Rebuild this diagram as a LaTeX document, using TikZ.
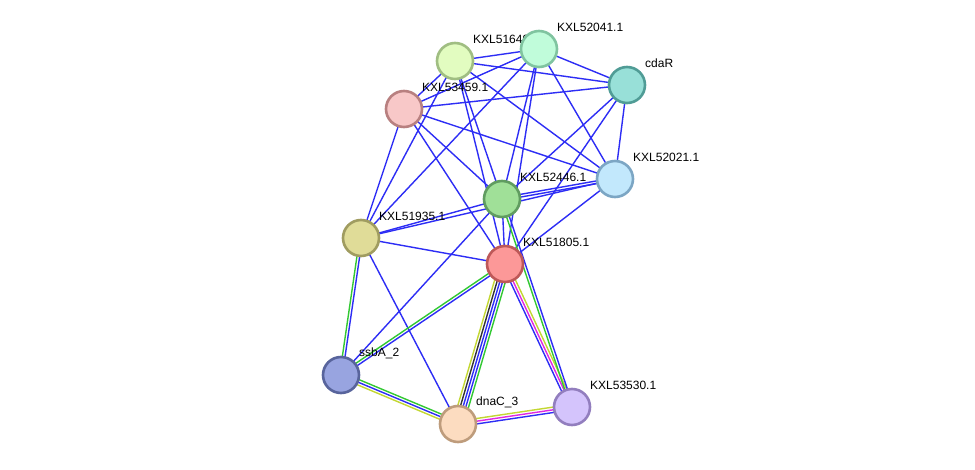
\documentclass[tikz,border=0pt]{standalone}
\usepackage{fontspec}
\setmainfont{Liberation Sans}
\usetikzlibrary{calc}
\pgfdeclarelayer{bg}
\pgfdeclarelayer{paper}
\pgfsetlayers{paper,bg,main}
\definecolor{eblue}{RGB}{45,45,245}
\definecolor{egreen}{RGB}{50,200,50}
\definecolor{eyellow}{RGB}{195,215,50}
\definecolor{emag}{RGB}{225,40,225}
\definecolor{eblack}{RGB}{50,50,50}
\tikzset{
  prot/.style={circle, minimum size=36pt, inner sep=0pt, line width=2.6pt},
  lbl/.style={anchor=west, font=\fontsize{12}{14}\selectfont, inner sep=0pt},
  edge/.style={line width=1.4pt},
}
\newcommand\medge[3]{%
  \foreach \c [count=\i] in {#3} {\xdef\nn{\i}}%
  \foreach \c [count=\i] in {#3} {%
    \pgfmathsetmacro\off{(\i-(\nn+1)/2)*2.7}%
    \draw[edge,\c] ($(#1)!\off pt!90:(#2)$) -- ($(#2)!\off pt!-90:(#1)$);
  }%
}
\begin{document}
\begin{tikzpicture}[x=1pt,y=-1pt]
\begin{pgfonlayer}{paper}
\fill[white] (0,0) rectangle (975,470);
\end{pgfonlayer}
\useasboundingbox (0,0) rectangle (975,470);
% nodes and labels
\node[prot, fill={rgb,255:red,226;green,252;blue,192}, draw={rgb,255:red,160;green,190;blue,130}] (A) at (455,61) {};
\node[lbl] (Al) at ($(A)+(18,-22)$) {KXL51649.1};
\node[prot, fill={rgb,255:red,192;green,252;blue,218}, draw={rgb,255:red,128;green,196;blue,160}] (B) at (539,49) {};
\node[lbl] (Bl) at ($(B)+(18,-22)$) {KXL52041.1};
\node[prot, fill={rgb,255:red,152;green,224;blue,216}, draw={rgb,255:red,80;green,156;blue,150}] (C) at (627,85) {};
\node[lbl] (Cl) at ($(C)+(18,-22)$) {cdaR};
\node[prot, fill={rgb,255:red,248;green,200;blue,200}, draw={rgb,255:red,184;green,128;blue,128}] (D) at (404,109) {};
\node[lbl] (Dl) at ($(D)+(18,-22)$) {KXL53459.1};
\node[prot, fill={rgb,255:red,194;green,232;blue,252}, draw={rgb,255:red,124;green,166;blue,196}] (E) at (615,179) {};
\node[lbl] (El) at ($(E)+(18,-22)$) {KXL52021.1};
\node[prot, fill={rgb,255:red,160;green,224;blue,152}, draw={rgb,255:red,96;green,156;blue,96}] (F) at (502,199) {};
\node[lbl] (Fl) at ($(F)+(18,-22)$) {KXL52446.1};
\node[prot, fill={rgb,255:red,224;green,220;blue,152}, draw={rgb,255:red,160;green,156;blue,96}] (G) at (361,238) {};
\node[lbl] (Gl) at ($(G)+(18,-22)$) {KXL51935.1};
\node[prot, fill={rgb,255:red,252;green,152;blue,152}, draw={rgb,255:red,190;green,88;blue,88}] (H) at (505,264) {};
\node[lbl] (Hl) at ($(H)+(18,-22)$) {KXL51805.1};
\node[prot, fill={rgb,255:red,152;green,164;blue,224}, draw={rgb,255:red,88;green,100;blue,156}] (I) at (341,375) {};
\node[lbl] (Il) at ($(I)+(18,-22)$) {ssbA\_2};
\node[prot, fill={rgb,255:red,252;green,220;blue,192}, draw={rgb,255:red,190;green,156;blue,124}] (J) at (458,424) {};
\node[lbl] (Jl) at ($(J)+(18,-22)$) {dnaC\_3};
\node[prot, fill={rgb,255:red,212;green,196;blue,252}, draw={rgb,255:red,146;green,126;blue,190}] (K) at (572,407) {};
\node[lbl] (Kl) at ($(K)+(18,-22)$) {KXL53530.1};
% edges
\begin{pgfonlayer}{bg}
\foreach \a/\b in {A/B,A/C,A/D,A/E,A/F,A/H,A/G,
  B/C,B/D,B/E,B/F,B/H,B/G,
  C/D,C/E,C/F,C/H,
  D/E,D/F,D/H,D/G,
  E/H,E/G,
  F/G,F/H,F/I,
  G/H,G/J}{
  \draw[edge,eblue] (\a.center) -- (\b.center);
}
\medge{F}{E}{eblue,eblue}
\medge{G}{I}{egreen,eblue}
\medge{H}{I}{egreen,eblue}
\medge{I}{J}{eyellow,eblue,egreen}
\medge{H}{J}{eyellow,eblack,eblue,eblue,egreen}
\medge{J}{K}{eblue,emag,eyellow}
\medge{H}{K}{eblue,emag,eyellow}
\medge{F}{K}{egreen,eblue}
\end{pgfonlayer}
\end{tikzpicture}
\end{document}
